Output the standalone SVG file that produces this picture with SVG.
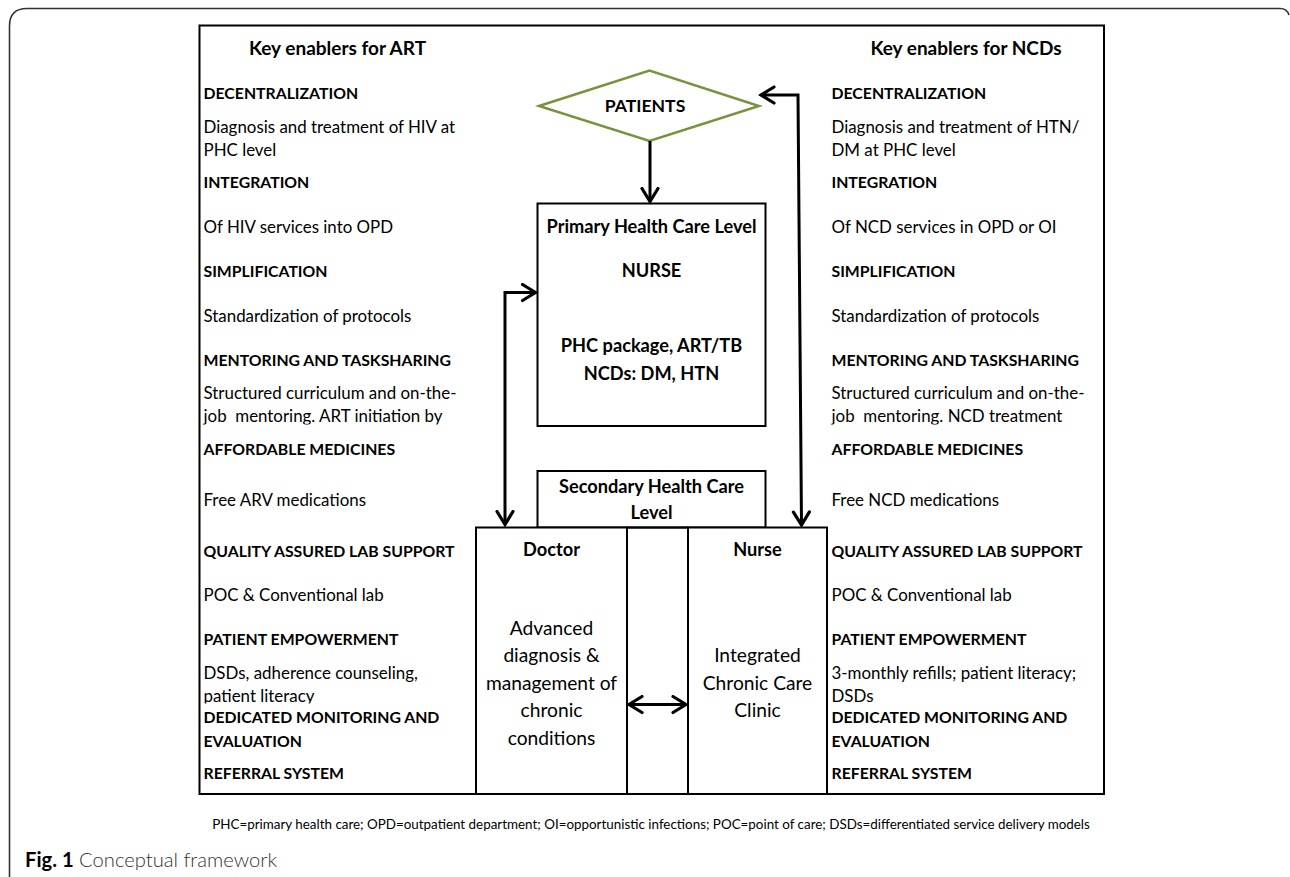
<svg xmlns="http://www.w3.org/2000/svg" width="1290" height="877" viewBox="0 0 1290 877">
<defs>
<style>
text{font-family:Lato,"Open Sans","Liberation Sans",sans-serif;fill:#000}
.b{font-weight:bold;font-size:15.8px}
.r{font-size:16.9px}
.h{font-weight:bold;font-size:18.2px}
.k{font-weight:bold;font-size:19px}
.c{text-anchor:middle}
.big{font-size:19.2px}
.box{fill:#fff;stroke:#000;stroke-width:2}
.con{fill:none;stroke:#000;stroke-width:3}
.foot{font-size:13.4px}
</style>
<marker id="arr" markerUnits="userSpaceOnUse" markerWidth="18" markerHeight="20" viewBox="0 0 18 20" refX="15" refY="10" orient="auto-start-reverse">
<path d="M2,2 L15,10 L2,18" fill="none" stroke="#000" stroke-width="3.2" stroke-linejoin="miter" stroke-linecap="round"/>
</marker>
<clipPath id="clipL1"><rect x="200" y="405" width="330" height="19.5"/></clipPath>
<clipPath id="clipL2"><rect x="200" y="685" width="270" height="18.5"/></clipPath>
<clipPath id="clipR1"><rect x="829" y="405" width="270" height="19.5"/></clipPath>
</defs>
<rect width="1290" height="877" fill="#fff"/>
<g id="frame">
<path d="M9.5,877 V26 Q9.5,8.5 27,8.5 H1280 Q1287,8.5 1289,15" fill="none" stroke="#333" stroke-width="1.6"/>
<rect x="199.5" y="25.5" width="904.5" height="768.5" fill="none" stroke="#000" stroke-width="2"/>
</g>
<g id="panel-art">
<text class="k c" x="337.5" y="55">Key enablers for ART</text>
<text class="b" x="203.5" y="99">DECENTRALIZATION</text>
<text class="r" x="203.5" y="132.5">Diagnosis and treatment of HIV at</text>
<text class="r" x="203.5" y="156">PHC level</text>
<text class="b" x="203.5" y="188">INTEGRATION</text>
<text class="r" x="203.5" y="232.5">Of HIV services into OPD</text>
<text class="b" x="203.5" y="277">SIMPLIFICATION</text>
<text class="r" x="203.5" y="321.5">Standardization of protocols</text>
<text class="b" x="203.5" y="366">MENTORING AND TASKSHARING</text>
<text class="r" x="203.5" y="399">Structured curriculum and on-the-</text>
<text class="r" x="203.5" y="422" clip-path="url(#clipL1)" xml:space="preserve">job  mentoring. ART initiation by</text>
<text class="b" x="203.5" y="455">AFFORDABLE MEDICINES</text>
<text class="r" x="203.5" y="505.5">Free ARV medications</text>
<text class="b" x="203.5" y="556.5">QUALITY ASSURED LAB SUPPORT</text>
<text class="r" x="203.5" y="600.5">POC &amp; Conventional lab</text>
<text class="b" x="203.5" y="645">PATIENT EMPOWERMENT</text>
<text class="r" x="203.5" y="678.5">DSDs, adherence counseling,</text>
<text class="r" x="203.5" y="701.5" clip-path="url(#clipL2)">patient literacy</text>
<text class="b" x="203.5" y="722.5">DEDICATED MONITORING AND</text>
<text class="b" x="203.5" y="746.5">EVALUATION</text>
<text class="b" x="203.5" y="778.5">REFERRAL SYSTEM</text>
</g>
<g id="panel-ncd">
<text class="k c" x="966" y="55">Key enablers for NCDs</text>
<text class="b" x="831.5" y="99">DECENTRALIZATION</text>
<text class="r" x="831.5" y="132.5">Diagnosis and treatment of HTN/</text>
<text class="r" x="831.5" y="156">DM at PHC level</text>
<text class="b" x="831.5" y="188">INTEGRATION</text>
<text class="r" x="831.5" y="232.5">Of NCD services in OPD or OI</text>
<text class="b" x="831.5" y="277">SIMPLIFICATION</text>
<text class="r" x="831.5" y="321.5">Standardization of protocols</text>
<text class="b" x="831.5" y="366">MENTORING AND TASKSHARING</text>
<text class="r" x="831.5" y="399">Structured curriculum and on-the-</text>
<text class="r" x="831.5" y="422" clip-path="url(#clipR1)" xml:space="preserve">job  mentoring. NCD treatment</text>
<text class="b" x="831.5" y="455">AFFORDABLE MEDICINES</text>
<text class="r" x="831.5" y="505.5">Free NCD medications</text>
<text class="b" x="831.5" y="556.5">QUALITY ASSURED LAB SUPPORT</text>
<text class="r" x="831.5" y="600.5">POC &amp; Conventional lab</text>
<text class="b" x="831.5" y="645">PATIENT EMPOWERMENT</text>
<text class="r" x="831.5" y="678.5">3-monthly refills; patient literacy;</text>
<text class="r" x="831.5" y="701.5">DSDs</text>
<text class="b" x="831.5" y="722.5">DEDICATED MONITORING AND</text>
<text class="b" x="831.5" y="746.5">EVALUATION</text>
<text class="b" x="831.5" y="778.5">REFERRAL SYSTEM</text>
</g>
<g id="node-patients">
<polygon points="539,106 649.5,70.5 759,106 649.5,141" fill="#fff" stroke="#77933C" stroke-width="2.5"/>
<text class="h c" x="645" y="112" style="font-size:17.6px">PATIENTS</text>
</g>
<g id="node-phc">
<rect class="box" x="537.5" y="203.5" width="228" height="222.5"/>
<text class="h c" x="651.5" y="232.5">Primary Health Care Level</text>
<text class="h c" x="651.5" y="277">NURSE</text>
<text class="h c" x="651.5" y="352">PHC package, ART/TB</text>
<text class="h c" x="651.5" y="379.5">NCDs: DM, HTN</text>
</g>
<g id="node-secondary">
<rect class="box" x="537.5" y="471" width="228" height="56.5"/>
<text class="h c" x="651.5" y="493">Secondary Health Care</text>
<text class="h c" x="651.5" y="519">Level</text>
</g>
<g id="node-doctor">
<rect class="box" x="476" y="527.5" width="151" height="266.5"/>
<text class="h c" x="551.5" y="556">Doctor</text>
<text class="r big c" x="551.5" y="634.5">Advanced</text>
<text class="r big c" x="551.5" y="662">diagnosis &amp;</text>
<text class="r big c" x="551.5" y="689.5">management of</text>
<text class="r big c" x="551.5" y="717">chronic</text>
<text class="r big c" x="551.5" y="744.5">conditions</text>
</g>
<g id="node-gap">
<path d="M627,527.5 H688" stroke="#000" stroke-width="2" fill="none"/>
</g>
<g id="node-nurse">
<rect class="box" x="688" y="527.5" width="139" height="266.5"/>
<text class="h c" x="757.5" y="556">Nurse</text>
<text class="r big c" x="757.5" y="662">Integrated</text>
<text class="r big c" x="757.5" y="689.5">Chronic Care</text>
<text class="r big c" x="757.5" y="717">Clinic</text>
</g>
<g id="connectors">
<path class="con" d="M650,141 V201.5" marker-end="url(#arr)"/>
<path class="con" d="M535.5,292.5 H505 V524.5" marker-start="url(#arr)" marker-end="url(#arr)"/>
<path class="con" d="M761,95 H798 L801.5,525" marker-start="url(#arr)" marker-end="url(#arr)"/>
<path class="con" d="M629,704.5 H686" marker-start="url(#arr)" marker-end="url(#arr)"/>
</g>
<g id="footnote">
<text class="foot c" x="651" y="828.5">PHC=primary health care; OPD=outpatient department; OI=opportunistic infections; POC=point of care; DSDs=differentiated service delivery models</text>
</g>
<g id="caption">
<text x="25" y="867" style="font-size:20.2px"><tspan style="font-weight:bold">Fig. 1</tspan><tspan style="font-weight:300;fill:#333"> Conceptual framework</tspan></text>
</g>
</svg>
